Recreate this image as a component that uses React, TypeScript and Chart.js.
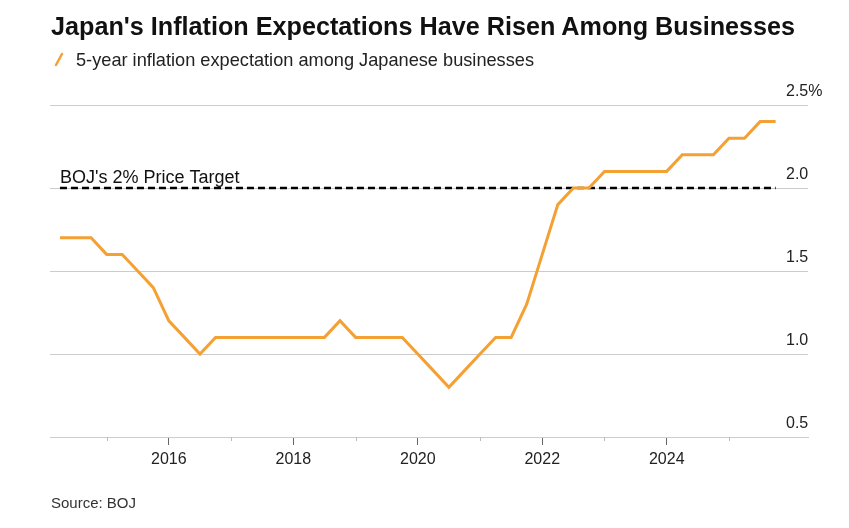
import React, { useEffect, useRef } from "react";
import { Chart, registerables } from "chart.js";

Chart.register(...registerables);

const quarters = [
  "2014-03", "2014-06", "2014-09", "2014-12",
  "2015-03", "2015-06", "2015-09", "2015-12",
  "2016-03", "2016-06", "2016-09", "2016-12",
  "2017-03", "2017-06", "2017-09", "2017-12",
  "2018-03", "2018-06", "2018-09", "2018-12",
  "2019-03", "2019-06", "2019-09", "2019-12",
  "2020-03", "2020-06", "2020-09", "2020-12",
  "2021-03", "2021-06", "2021-09", "2021-12",
  "2022-03", "2022-06", "2022-09", "2022-12",
  "2023-03", "2023-06", "2023-09", "2023-12",
  "2024-03", "2024-06", "2024-09", "2024-12",
  "2025-03", "2025-06", "2025-09",
];

const expectations = [
  1.7, 1.7, 1.7, 1.6,
  1.6, 1.5, 1.4, 1.2,
  1.1, 1.0, 1.1, 1.1,
  1.1, 1.1, 1.1, 1.1,
  1.1, 1.1, 1.2, 1.1,
  1.1, 1.1, 1.1, 1.0,
  0.9, 0.8, 0.9, 1.0,
  1.1, 1.1, 1.3, 1.6,
  1.9, 2.0, 2.0, 2.1,
  2.1, 2.1, 2.1, 2.1,
  2.2, 2.2, 2.2, 2.3,
  2.3, 2.4, 2.4,
];

const yearTicks = [2015, 2016, 2017, 2018, 2019, 2020, 2021, 2022, 2023, 2024, 2025];
const yTicks = [0.5, 1.0, 1.5, 2.0, 2.5];
const yTickLabels = ["0.5", "1.0", "1.5", "2.0", "2.5%"];
const targetValue = 2.0;
const targetLabel = "BOJ's 2% Price Target";
const titleText = "Japan's Inflation Expectations Have Risen Among Businesses";
const legendText = "5-year inflation expectation among Japanese businesses";
const sourceText = "Source: BOJ";

const FONT = '"Liberation Sans", Arial, Helvetica, sans-serif';
const ORANGE = "#f5a033";

function toYear(q: string): number {
  const [y, m] = q.split("-").map(Number);
  return y + m / 12;
}

export default function App() {
  const ref = useRef<HTMLCanvasElement | null>(null);

  useEffect(() => {
    if (!ref.current) return;
    const xs = quarters.map(toYear);
    const mainData = xs.map((x, i) => ({ x, y: expectations[i] }));
    const targetData = [
      { x: xs[0], y: targetValue },
      { x: xs[xs.length - 1], y: targetValue },
    ];

    const extras = {
      id: "extras",
      afterDraw(chart: any) {
        const ctx = chart.ctx;
        const xScale = chart.scales.x;
        const yScale = chart.scales.y;
        const area = chart.chartArea;
        ctx.save();
        // minor ticks on odd years
        ctx.strokeStyle = "#bdbdbd";
        ctx.lineWidth = 1;
        yearTicks.forEach((yr) => {
          if (yr % 2 === 1) {
            const px = Math.round(xScale.getPixelForValue(yr)) + 0.5;
            ctx.beginPath();
            ctx.moveTo(px, area.bottom);
            ctx.lineTo(px, area.bottom + 4);
            ctx.stroke();
          }
        });
        // y tick labels above gridlines, inside the plot at the right
        ctx.fillStyle = "#222";
        ctx.font = `16px ${FONT}`;
        ctx.textAlign = "left";
        ctx.textBaseline = "middle";
        yTicks.forEach((v, i) => {
          ctx.fillText(yTickLabels[i], area.right - 22, yScale.getPixelForValue(v) - 13);
        });
        // target label
        ctx.fillStyle = "#111";
        ctx.font = `18px ${FONT}`;
        ctx.textBaseline = "alphabetic";
        ctx.fillText(
          targetLabel,
          xScale.getPixelForValue(xs[0]),
          yScale.getPixelForValue(targetValue) - 5
        );
        ctx.restore();
      },
    };

    const chart = new Chart(ref.current, {
      type: "line",
      data: {
        datasets: [
          {
            label: legendText,
            data: mainData,
            borderColor: ORANGE,
            backgroundColor: ORANGE,
            borderWidth: 3,
            pointRadius: 0,
            tension: 0,
            order: 0,
          },
          {
            label: targetLabel,
            data: targetData,
            borderColor: "#000",
            borderWidth: 2.5,
            borderDash: [7, 4],
            pointRadius: 0,
            order: 1,
          },
        ],
      },
      options: {
        responsive: false,
        animation: false,
        devicePixelRatio: 1,
        layout: { padding: { left: 50, top: 105, right: 0, bottom: 0 } },
        plugins: {
          legend: { display: false },
          title: { display: false },
          tooltip: { enabled: false },
        },
        scales: {
          x: {
            type: "linear",
            min: 2014.09,
            max: 2026.27,
            afterBuildTicks: (scale: any) => {
              scale.ticks = yearTicks.map((v) => ({ value: v }));
            },
            afterFit: (scale: any) => {
              scale.height = 91;
            },
            grid: {
              drawOnChartArea: false,
              drawTicks: true,
              tickLength: 8,
              tickColor: (ctx: any) =>
                ctx.tick && ctx.tick.value % 2 === 1 ? "rgba(0,0,0,0)" : "#666",
            },
            border: { display: true, color: "#cccccc", width: 1 },
            ticks: {
              autoSkip: false,
              maxRotation: 0,
              padding: 5,
              color: "#222",
              font: { family: FONT, size: 16 },
              callback: (v: any) => (Number(v) % 2 === 0 ? String(v) : ""),
            },
          },
          y: {
            position: "right",
            min: 0.5,
            max: 2.5,
            afterBuildTicks: (scale: any) => {
              scale.ticks = yTicks.map((v) => ({ value: v }));
            },
            afterFit: (scale: any) => {
              scale.width = 41;
            },
            grid: {
              color: "#cccccc",
              lineWidth: 1,
              drawTicks: false,
            },
            border: { display: false },
            ticks: { display: false },
          },
        },
      },
      plugins: [extras],
    } as any);

    return () => chart.destroy();
  }, []);

  return (
    <div
      style={{
        position: "absolute",
        left: 0,
        top: 0,
        width: 849,
        height: 528,
        background: "#fff",
        fontFamily: FONT,
      }}
    >
      <canvas
        ref={ref}
        width={849}
        height={528}
        style={{ position: "absolute", left: 0, top: 0 }}
      />
      <div
        style={{
          position: "absolute",
          left: 51,
          top: 14,
          fontSize: 25.2,
          lineHeight: "25px",
          fontWeight: 700,
          color: "#111",
          whiteSpace: "nowrap",
        }}
      >
        {titleText}
      </div>
      <div
        style={{
          position: "absolute",
          left: 54,
          top: 52,
          width: 10,
          height: 15,
        }}
      >
        <svg width="10" height="15">
          <line x1="2" y1="13" x2="8" y2="2" stroke={ORANGE} strokeWidth="2.5" strokeLinecap="round" />
        </svg>
      </div>
      <div
        style={{
          position: "absolute",
          left: 76,
          top: 51,
          fontSize: 18.2,
          lineHeight: "18px",
          color: "#222",
          whiteSpace: "nowrap",
        }}
      >
        {legendText}
      </div>
      <div
        style={{
          position: "absolute",
          left: 51,
          top: 495,
          fontSize: 15,
          lineHeight: "15px",
          color: "#333",
          whiteSpace: "nowrap",
        }}
      >
        {sourceText}
      </div>
    </div>
  );
}
